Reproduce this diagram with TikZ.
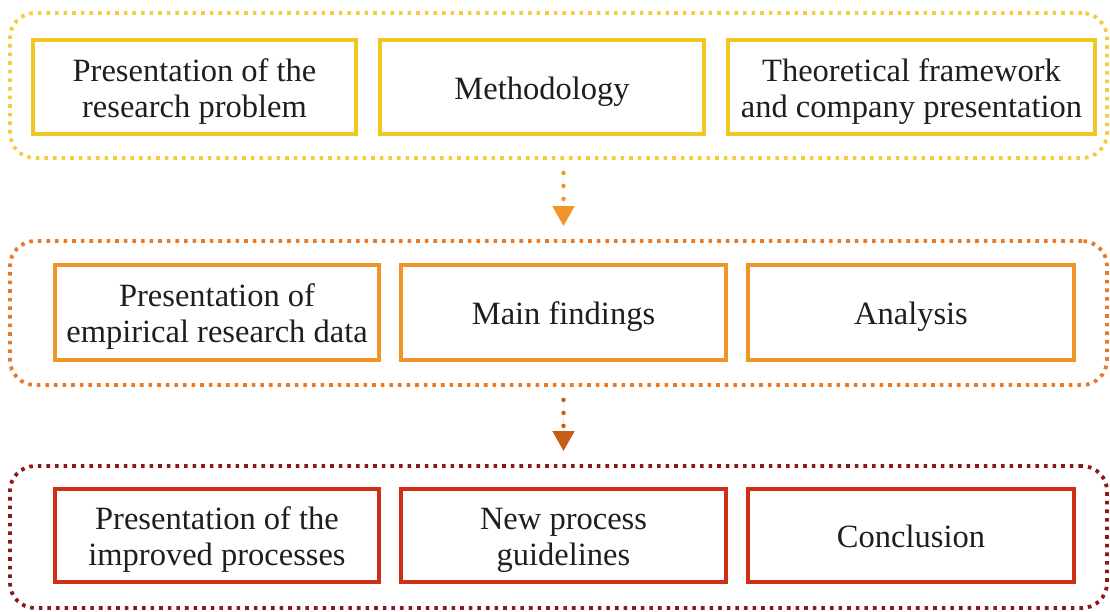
\documentclass[tikz,border=0pt]{standalone}
\usepackage{fontspec}
\setmainfont{Liberation Serif}
\usetikzlibrary{arrows.meta}
\definecolor{yel}{RGB}{242,198,34}
\definecolor{yeldot}{RGB}{243,205,60}
\definecolor{org}{RGB}{240,150,40}
\definecolor{orgdot}{RGB}{228,122,42}
\definecolor{arr1}{RGB}{240,150,40}
\definecolor{arr2}{RGB}{198,92,22}
\definecolor{redbox}{RGB}{205,48,20}
\definecolor{reddot}{RGB}{140,25,25}
\definecolor{txt}{RGB}{30,30,30}
\newcommand{\lowtext}[1]{\raisebox{-5pt}[\height][\depth]{\begin{tabular}{@{}c@{}}#1\end{tabular}}}
\begin{document}
\begin{tikzpicture}[x=1pt,y=-1pt,
  stagebox/.style={draw, line width=4pt, inner sep=0pt,
     text=txt, font=\fontsize{32.5}{36}\selectfont},
  group/.style={draw, line width=3.8pt, rounded corners=25pt, dash pattern=on 3.6pt off 5pt, inner sep=0pt},
  flow/.style={line width=4.5pt, line cap=round, dash pattern=on 0pt off 13pt,
     -{Triangle[width=21pt,length=20pt]}, shorten <=13pt, shorten >=13pt}]
\useasboundingbox (0,0) rectangle (1110,611);
% containers
\node[group, draw=yeldot, minimum width=1097pt, minimum height=145pt] (top) at (558.5,85.5) {};
\node[group, draw=orgdot, minimum width=1097pt, minimum height=144pt] (mid) at (558.5,313) {};
\node[group, draw=reddot, minimum width=1097pt, minimum height=142pt] (bot) at (558.5,537) {};
% top row
\node[stagebox, draw=yel, minimum width=323pt, minimum height=94pt] (t1) at (194.5,87) {\lowtext{Presentation of the\\research problem}};
\node[stagebox, draw=yel, minimum width=324pt, minimum height=94pt] (t2) at (542,87) {\lowtext{Methodology}};
\node[stagebox, draw=yel, minimum width=367pt, minimum height=94pt] (t3) at (911.5,87) {\lowtext{Theoretical framework\\and company presentation}};
% middle row
\node[stagebox, draw=org, minimum width=324pt, minimum height=95pt] (m1) at (217,312.5) {\lowtext{Presentation of\\empirical research data}};
\node[stagebox, draw=org, minimum width=325pt, minimum height=95pt] (m2) at (563.5,312.5) {\lowtext{Main findings}};
\node[stagebox, draw=org, minimum width=326pt, minimum height=95pt] (m3) at (911,312.5) {\lowtext{Analysis}};
% bottom row
\node[stagebox, draw=redbox, minimum width=324pt, minimum height=93pt] (b1) at (217,535.5) {\lowtext{Presentation of the\\improved processes}};
\node[stagebox, draw=redbox, minimum width=325pt, minimum height=93pt] (b2) at (563.5,535.5) {\lowtext{New process\\guidelines}};
\node[stagebox, draw=redbox, minimum width=326pt, minimum height=93pt] (b3) at (911,535.5) {\lowtext{Conclusion}};
% arrows
\draw[flow, draw=arr1, fill=arr1] (top.south -| m2.center) -- (mid.north -| m2.center);
\draw[flow, draw=arr2, fill=arr2] (mid.south -| m2.center) -- (bot.north -| m2.center);
\end{tikzpicture}
\end{document}
